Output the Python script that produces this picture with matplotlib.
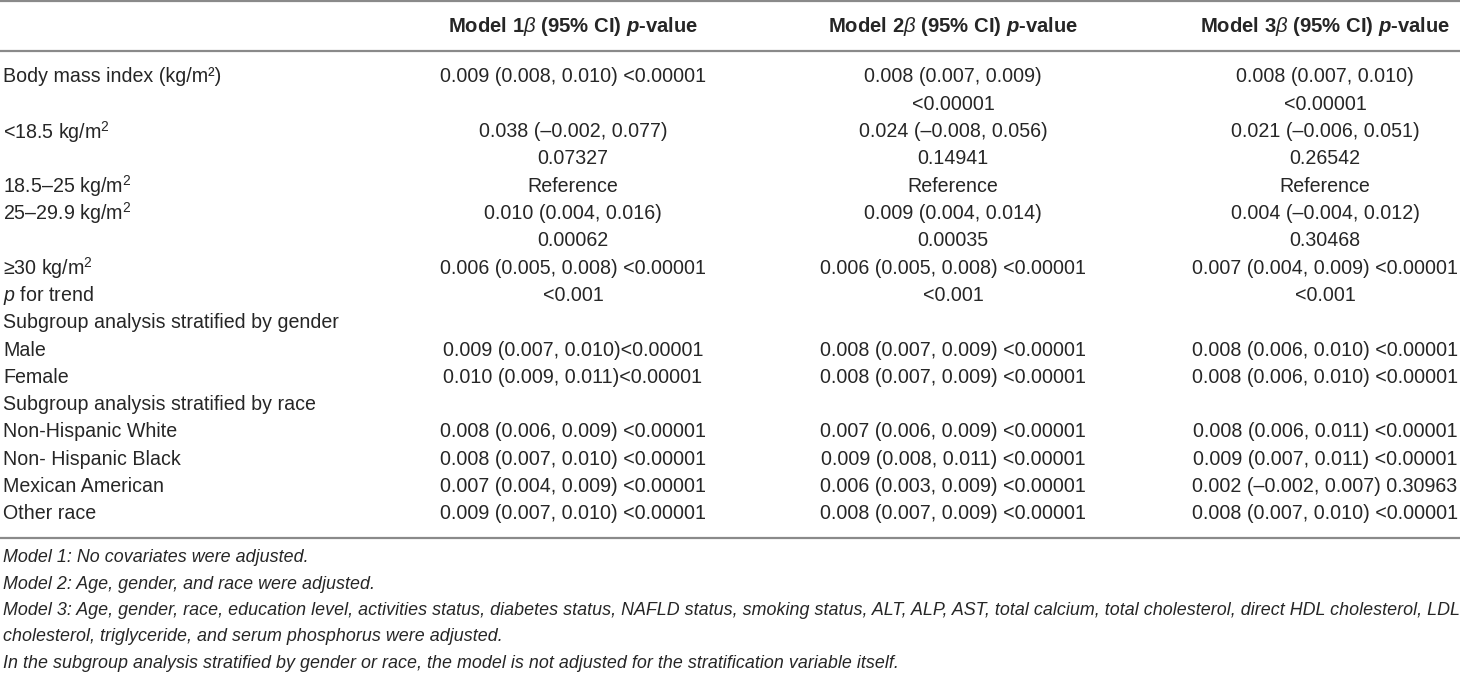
import matplotlib
matplotlib.use("Agg")
import matplotlib.pyplot as plt

plt.rcParams['font.family'] = ['Liberation Sans', 'DejaVu Sans']
plt.rcParams['mathtext.fontset'] = 'custom'
plt.rcParams['mathtext.rm'] = 'Liberation Sans'
plt.rcParams['mathtext.it'] = 'Liberation Sans:italic'
plt.rcParams['mathtext.bf'] = 'Liberation Sans:bold'
plt.rcParams['mathtext.bfit'] = 'Liberation Sans:italic:bold'

# table content
headers = [r"Model 1$\beta$ (95% CI) $\mathbfit{p}$-value",
           r"Model 2$\beta$ (95% CI) $\mathbfit{p}$-value",
           r"Model 3$\beta$ (95% CI) $\mathbfit{p}$-value"]

row_labels = ["Body mass index (kg/m²)", "<18.5 kg/m$^2$", "18.5–25 kg/m$^2$",
              "25–29.9 kg/m$^2$", "≥30 kg/m$^2$", "$p$ for trend",
              "Subgroup analysis stratified by gender", "Male", "Female",
              "Subgroup analysis stratified by race", "Non-Hispanic White",
              "Non- Hispanic Black", "Mexican American", "Other race"]

model1 = ["0.009 (0.008, 0.010) <0.00001", "0.038 (–0.002, 0.077)\n0.07327", "Reference",
          "0.010 (0.004, 0.016)\n0.00062", "0.006 (0.005, 0.008) <0.00001", "<0.001", "",
          "0.009 (0.007, 0.010)<0.00001", "0.010 (0.009, 0.011)<0.00001", "",
          "0.008 (0.006, 0.009) <0.00001", "0.008 (0.007, 0.010) <0.00001",
          "0.007 (0.004, 0.009) <0.00001", "0.009 (0.007, 0.010) <0.00001"]
model2 = ["0.008 (0.007, 0.009)\n<0.00001", "0.024 (–0.008, 0.056)\n0.14941", "Reference",
          "0.009 (0.004, 0.014)\n0.00035", "0.006 (0.005, 0.008) <0.00001", "<0.001", "",
          "0.008 (0.007, 0.009) <0.00001", "0.008 (0.007, 0.009) <0.00001", "",
          "0.007 (0.006, 0.009) <0.00001", "0.009 (0.008, 0.011) <0.00001",
          "0.006 (0.003, 0.009) <0.00001", "0.008 (0.007, 0.009) <0.00001"]
model3 = ["0.008 (0.007, 0.010)\n<0.00001", "0.021 (–0.006, 0.051)\n0.26542", "Reference",
          "0.004 (–0.004, 0.012)\n0.30468", "0.007 (0.004, 0.009) <0.00001", "<0.001", "",
          "0.008 (0.006, 0.010) <0.00001", "0.008 (0.006, 0.010) <0.00001", "",
          "0.008 (0.006, 0.011) <0.00001", "0.009 (0.007, 0.011) <0.00001",
          "0.002 (–0.002, 0.007) 0.30963", "0.008 (0.007, 0.010) <0.00001"]

footnotes = ["Model 1: No covariates were adjusted.",
             "Model 2: Age, gender, and race were adjusted.",
             "Model 3: Age, gender, race, education level, activities status, diabetes status, NAFLD status, "
             "smoking status, ALT, ALP, AST, total calcium, total cholesterol, direct HDL cholesterol, LDL",
             "cholesterol, triglyceride, and serum phosphorus were adjusted.",
             "In the subgroup analysis stratified by gender or race, the model is not adjusted for the "
             "stratification variable itself."]

W, H = 1460, 673
fig = plt.figure(figsize=(W / 100, H / 100), dpi=100)
ax = fig.add_axes([0, 0, 1, 1])
ax.set_xlim(0, W)
ax.set_ylim(H, 0)
ax.axis('off')

txt = '#262626'
rule = '#8a8a8a'
fs = 14.1
col_x = [573, 953, 1325]
y0 = 77
pitch = 27.3

ax.axhline(1, color=rule, lw=1.6)
ax.axhline(51, color=rule, lw=1.6)
ax.axhline(538, color=rule, lw=1.6)

for cx, h in zip(col_x, headers):
    ax.text(cx, 27, h, ha='center', va='center', fontsize=14.6, fontweight='bold', color=txt)

line = 0
for i, lab in enumerate(row_labels):
    y = y0 + line * pitch
    ax.text(3, y, lab, ha='left', va='center', fontsize=fs, color=txt)
    nlines = 1
    for cx, col in zip(col_x, [model1, model2, model3]):
        parts = col[i].split('\n') if col[i] else []
        for k, p in enumerate(parts):
            ax.text(cx, y + k * pitch, p, ha='center', va='center', fontsize=fs, color=txt)
        nlines = max(nlines, len(parts))
    line += nlines

for k, f in enumerate(footnotes):
    ax.text(3, 558 + k * 26.3, f, ha='left', va='center', fontsize=12.9, style='italic', color=txt)

fig.savefig('out.png', dpi=100)
